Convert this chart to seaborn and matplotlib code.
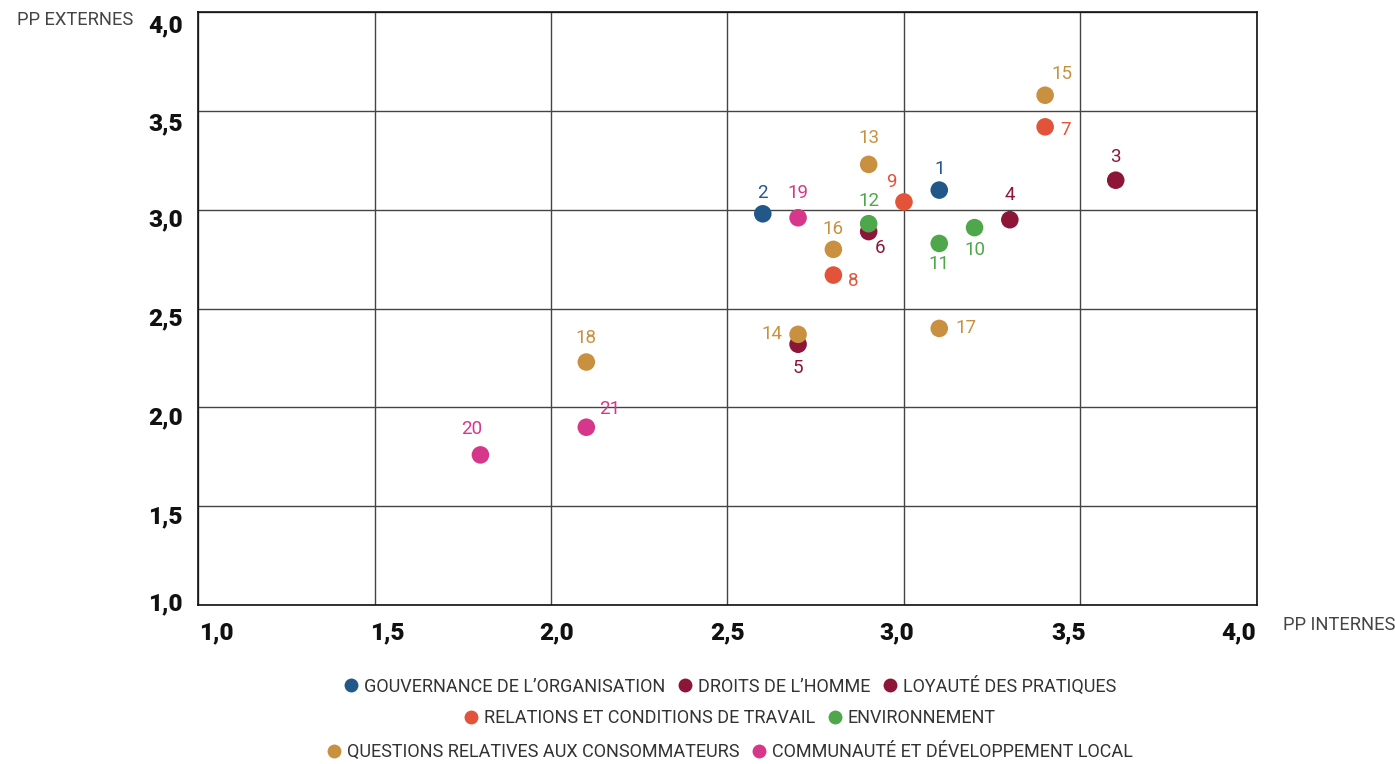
import numpy as np
import pandas as pd
import seaborn as sns
import matplotlib.pyplot as plt
from matplotlib.lines import Line2D
from matplotlib.transforms import ScaledTranslation

# data
categories = [
    "GOUVERNANCE DE L’ORGANISATION",
    "DROITS DE L’HOMME",
    "LOYAUTÉ DES PRATIQUES",
    "RELATIONS ET CONDITIONS DE TRAVAIL",
    "ENVIRONNEMENT",
    "QUESTIONS RELATIVES AUX CONSOMMATEURS",
    "COMMUNAUTÉ ET DÉVELOPPEMENT LOCAL",
]
cat_colors = ["#22578a", "#8c1538", "#8c1538", "#e2533a", "#4ea74a", "#c9913f", "#d6378a"]

point_ids = list(range(1, 22))
pp_internes = [3.1, 2.6, 3.6, 3.3, 2.7, 2.9, 3.4, 2.8, 3.0, 3.2, 3.1, 2.9, 2.9, 2.7,
               3.4, 2.8, 3.1, 2.1, 2.7, 1.8, 2.1]
pp_externes = [3.10, 2.98, 3.15, 2.95, 2.32, 2.89, 3.42, 2.67, 3.04, 2.91, 2.83, 2.93,
               3.23, 2.37, 3.58, 2.80, 2.40, 2.23, 2.96, 1.76, 1.90]
point_cat = [0, 0, 1, 1, 2, 2, 3, 3, 3, 4, 4, 4, 5, 5, 5, 5, 5, 5, 6, 6, 6]

ticks = [1.0, 1.5, 2.0, 2.5, 3.0, 3.5, 4.0]
tick_labels = ["1,0", "1,5", "2,0", "2,5", "3,0", "3,5", "4,0"]

# label offsets (points) relative to each marker
label_offsets = {
    1: (0, 15), 2: (0, 15), 3: (0, 17), 4: (0, 18), 5: (0, -17), 6: (8, -12),
    7: (15, -2), 8: (14, -4), 9: (-9, 14), 10: (0, -16), 11: (0, -15), 12: (0, 16),
    13: (0, 19), 14: (-19, 0), 15: (12, 15), 16: (0, 15), 17: (19, 0), 18: (0, 17),
    19: (0, 18), 20: (-6, 19), 21: (17, 13),
}

df = pd.DataFrame({
    "id": point_ids,
    "x": pp_internes,
    "y": pp_externes,
    "cat": [categories[c] for c in point_cat],
})
palette = dict(zip(categories, cat_colors))

sns.set_style("white")
plt.rcParams["font.family"] = ["Roboto", "DejaVu Sans"]

fig = plt.figure(figsize=(13.95, 7.64), dpi=100)
ax = fig.add_axes([0.142, 0.208, 0.759, 0.776])

sns.scatterplot(data=df, x="x", y="y", hue="cat", palette=palette, s=160,
                edgecolor="none", legend=False, ax=ax, zorder=3)

for _, r in df.iterrows():
    dx, dy = label_offsets[r["id"]]
    ax.annotate(str(r["id"]), (r["x"], r["y"]), xytext=(dx, dy), textcoords="offset points",
                ha="center", va="center", fontsize=13.5, color=palette[r["cat"]], zorder=4)

ax.set_xlim(1.0, 4.0)
ax.set_ylim(1.0, 4.0)
ax.set_xticks(ticks)
ax.set_yticks(ticks)
ax.set_xticklabels(tick_labels, fontsize=17.5, fontweight="black", color="#111111")
ax.set_yticklabels(tick_labels, fontsize=17.5, fontweight="black", color="#111111")
ax.tick_params(axis="y", length=0, pad=11)
ax.tick_params(axis="x", length=0, pad=12)
ax.set_xlabel("")
ax.set_ylabel("")
ax.grid(True, color="#444444", linewidth=1)
ax.set_axisbelow(True)
for sp in ax.spines.values():
    sp.set_visible(True)
    sp.set_color("#111111")
    sp.set_linewidth(1.2)

# spread of tick labels like the reference (pixels)
x_shift = [18, 13, 6, 0, -7, -12, -18]
y_shift = [4, -8, -8, -8, -8, -10, -11]
for lbl, d in zip(ax.get_xticklabels(), x_shift):
    lbl.set_transform(lbl.get_transform() + ScaledTranslation(d / 100, 0, fig.dpi_scale_trans))
for lbl, d in zip(ax.get_yticklabels(), y_shift):
    lbl.set_transform(lbl.get_transform() + ScaledTranslation(0, d / 100, fig.dpi_scale_trans))

fig.text(17 / 1395, 1 - 20 / 764, "PP EXTERNES", fontsize=13.2, color="#444444", va="center", ha="left")
fig.text(1283 / 1395, 1 - 625 / 764, "PP INTERNES", fontsize=13.2, color="#444444", va="center", ha="left")

# legend in three centred rows
rows = [[0, 1, 2], [3, 4], [5, 6]]
row_y = [1 - 686 / 764, 1 - 718 / 764, 1 - 752 / 764]
for idx, yy in zip(rows, row_y):
    handles = [Line2D([], [], marker="o", linestyle="none", markersize=10,
                      markerfacecolor=cat_colors[i], markeredgecolor="none") for i in idx]
    fig.legend(handles, [categories[i] for i in idx], loc="center", bbox_to_anchor=(0.522, yy),
               ncol=len(idx), frameon=False, fontsize=13, handletextpad=0.1,
               columnspacing=0.5, handlelength=1.2, labelcolor="#333333",
               borderpad=0, borderaxespad=0)

fig.savefig("out.png", dpi=100)
